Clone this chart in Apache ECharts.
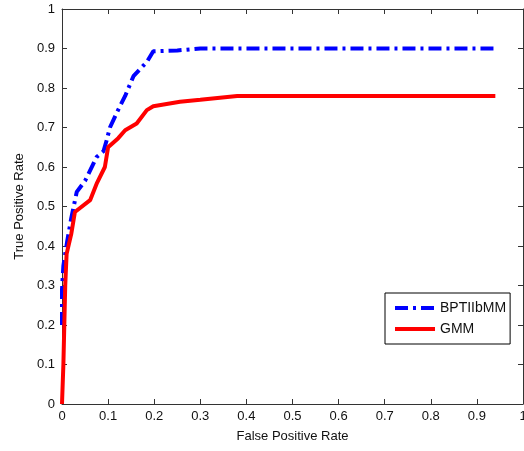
<!DOCTYPE html>
<html>
<head>
<meta charset="utf-8">
<script src="https://cdn.jsdelivr.net/npm/echarts@6/dist/echarts.min.js"></script>
<style>
  html, body { margin: 0; padding: 0; background: #fff; }
  #roc { width: 524px; height: 451px; }
</style>
</head>
<body>
<div id="roc"></div>
<script>
// ROC curves
var bptFpr = [0, 0, 0.003, 0.011, 0.02, 0.032, 0.05, 0.075, 0.09, 0.097, 0.104, 0.12, 0.137, 0.155, 0.184, 0.198, 0.25, 0.3, 0.94]
var bptTpr = [0.2, 0.29, 0.35, 0.41, 0.47, 0.537, 0.565, 0.625, 0.64, 0.668, 0.7, 0.74, 0.78, 0.83, 0.866, 0.893, 0.895, 0.9, 0.9]
var gmmFpr = [0, 0.003, 0.005, 0.007, 0.01, 0.02, 0.028, 0.061, 0.076, 0.093, 0.1, 0.122, 0.137, 0.162, 0.184, 0.198, 0.256, 0.3, 0.38, 0.94]
var gmmTpr = [0, 0.1, 0.2, 0.3, 0.38, 0.43, 0.486, 0.516, 0.56, 0.6, 0.65, 0.673, 0.693, 0.71, 0.744, 0.754, 0.765, 0.77, 0.78, 0.78]

function pairs(xs, ys) {
  return xs.map(function (x, i) { return [x, ys[i]] })
}

var axisColor = '#333'
var font = 'Liberation Sans, Arial, sans-serif'

var frameAxis = {
  type: 'value',
  min: 0,
  max: 1,
  interval: 0.1,
  axisLine: { show: true, onZero: false, lineStyle: { color: axisColor, width: 1 } },
  axisTick: { show: true, inside: true, length: 5, lineStyle: { color: axisColor } },
  splitLine: { show: false }
}

var chart = echarts.init(document.getElementById('roc'))
chart.setOption({
  animation: false,
  backgroundColor: '#fff',
  grid: { left: 62, top: 9, right: 1, bottom: 47, outerBoundsMode: 'none', containLabel: false },
  legend: {
    orient: 'vertical',
    left: 385,
    top: 293,
    padding: [8, 4, 8, 8],
    itemGap: 7,
    itemWidth: 40,
    itemHeight: 12,
    borderColor: '#000',
    borderWidth: 1,
    backgroundColor: '#fff',
    itemStyle: { opacity: 0 },
    lineStyle: { width: 4 },
    textStyle: { fontFamily: font, fontSize: 14, color: '#111' },
    data: ['BPTIIbMM', 'GMM']
  },
  xAxis: [
    Object.assign({}, frameAxis, {
      position: 'bottom',
      name: 'False Positive Rate',
      nameLocation: 'middle',
      nameGap: 26,
      nameTextStyle: { fontFamily: font, fontSize: 13, color: '#111' },
      axisLabel: { fontFamily: font, fontSize: 13, color: '#111', margin: 6 }
    }),
    Object.assign({}, frameAxis, { position: 'top', axisLabel: { show: false } })
  ],
  yAxis: [
    Object.assign({}, frameAxis, {
      position: 'left',
      name: 'True Positive Rate',
      nameLocation: 'middle',
      nameGap: 30,
      nameTextStyle: { fontFamily: font, fontSize: 13, color: '#111' },
      axisLabel: { fontFamily: font, fontSize: 13, color: '#111', margin: 7 }
    }),
    Object.assign({}, frameAxis, { position: 'right', axisLabel: { show: false } })
  ],
  series: [
    {
      name: 'BPTIIbMM',
      type: 'line',
      showSymbol: false,
      symbol: 'none',
      data: pairs(bptFpr, bptTpr),
      lineStyle: { color: '#0000ff', width: 4, type: [13, 5, 3, 5] },
      itemStyle: { color: '#0000ff' }
    },
    {
      name: 'GMM',
      type: 'line',
      showSymbol: false,
      symbol: 'none',
      data: pairs(gmmFpr, gmmTpr),
      lineStyle: { color: '#ff0000', width: 4 },
      itemStyle: { color: '#ff0000' }
    }
  ]
})
</script>
</body>
</html>
